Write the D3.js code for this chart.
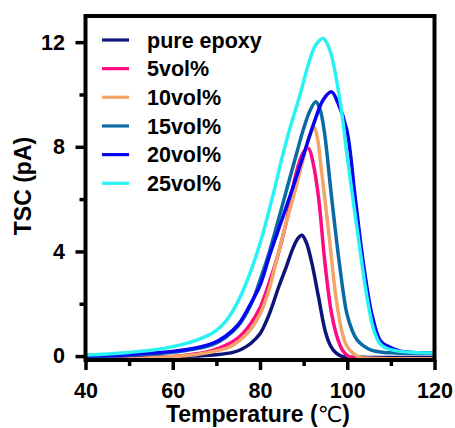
<!DOCTYPE html>
<html>
<head>
<meta charset="utf-8">
<script src="https://cdn.jsdelivr.net/npm/d3@7"></script>
<style>
  body { margin: 0; background: #fff; }
  svg { display: block; }
  text { font-family: "Liberation Sans", Arial, Helvetica, sans-serif; font-weight: bold; fill: #000; }
</style>
</head>
<body>
<svg id="chart" width="455" height="428"></svg>
<script>
// Thermally stimulated current (pA) versus temperature (°C), one curve per filler loading
const seriesNames = ["pure epoxy", "5vol%", "10vol%", "15vol%", "20vol%", "25vol%"];

const pureEpoxy = [[40,-0.05],[50,-0.05],[60,-0.03],[65,0.0],[70,0.05],[74,0.15],[76,0.28],[78,0.5],[80,0.85],[82,1.55],[84.3,2.65],[86,3.4],[87.5,4.1],[88.7,4.5],[89.6,4.62],[90.6,4.35],[91.9,3.54],[93.4,2.27],[94.9,0.99],[96,0.45],[96.8,0.23],[98,0.05],[99,-0.02],[105,-0.05],[120,-0.05]];
const vol5 = [[44,-0.12],[50,-0.1],[60,-0.02],[65,0.08],[69.3,0.23],[72,0.4],[75,0.7],[77.7,1.2],[80,1.85],[82,2.75],[84,3.8],[86,5.1],[88,6.8],[89.8,7.75],[91.1,7.94],[92.2,7.36],[93.4,6.09],[94.9,3.54],[96.4,1.63],[97.9,0.61],[99,0.2],[99.9,0.04],[101,-0.06],[103,-0.1],[120,-0.1]];
const vol10 = [[44,-0.13],[50,-0.12],[60,-0.02],[65,0.05],[69.3,0.18],[72.4,0.3],[75,0.55],[78,1.05],[80,1.6],[82,2.5],[84,3.8],[86,5.1],[88,6.3],[90,7.6],[91.3,8.4],[92.4,8.76],[93.2,8.3],[93.9,7.36],[95.7,4.81],[97.4,2.27],[98.7,0.99],[99.7,0.45],[100.6,0.23],[101.8,0.05],[103,-0.05],[105,-0.08],[120,-0.1]];
const vol15 = [[40,-0.03],[50,0.03],[60,0.15],[65,0.27],[69.3,0.45],[72,0.7],[75,1.15],[78,2.0],[80,2.9],[82,3.9],[84.2,5.2],[86,6.3],[88.4,7.75],[90,8.7],[91.5,9.4],[92.8,9.72],[93.8,9.4],[94.7,8.64],[96.4,6.09],[98.2,3.54],[99.9,1.63],[101.2,0.95],[102.3,0.61],[103.8,0.38],[105.5,0.23],[108,0.15],[111,0.12],[120,0.1]];
const vol20 = [[40,0.0],[50,0.06],[60,0.18],[65,0.3],[69.3,0.5],[72,0.75],[75,1.2],[77.7,1.95],[80,2.7],[82.3,3.9],[85,5.2],[87.6,6.47],[90,7.7],[92.6,9.02],[94.5,9.8],[96.4,10.1],[97.8,9.7],[99.9,8.64],[101.8,6.09],[103.7,3.54],[105.6,1.63],[107.5,0.61],[109,0.4],[112,0.2],[115,0.14],[120,0.12]];
const vol25 = [[40,0.04],[45,0.08],[50,0.14],[55,0.22],[60,0.36],[65,0.58],[69.3,0.9],[72,1.3],[75,2.1],[77.7,3.16],[80,4.3],[81.5,5.2],[83.5,6.5],[85.3,7.75],[87.2,8.9],[89.2,10.0],[91,11.1],[92.8,11.9],[94.5,12.14],[96,11.7],[98.2,9.91],[100.2,7.36],[102.3,4.81],[104.5,2.27],[106.1,0.99],[107.5,0.48],[109,0.3],[112,0.18],[115,0.14],[120,0.12]];

const seriesData = [pureEpoxy, vol5, vol10, vol15, vol20, vol25];
const seriesColors = ["#0c1478", "#ff0a80", "#f5a468", "#0a6aa6", "#0505f0", "#2af2f2"];

const xTicks = [40, 60, 80, 100, 120];
const xMinorTicks = [50, 70, 90, 110];
const yTicks = [0, 4, 8, 12];
const yMinorTicks = [2, 6, 10];

const xLabel = "Temperature (";
const xUnit = "\u2103";
const yLabel = "TSC (pA)";

const plot = { left: 85.5, right: 434.5, top: 16, bottom: 360 };

const svg = d3.select("#chart");

const x = d3.scaleLinear().domain([40, 120]).range([plot.left, plot.right]);
const y = d3.scaleLinear().domain([-0.15, 13]).range([plot.bottom, plot.top]);

svg.append("defs").append("clipPath").attr("id", "plot-clip")
  .append("rect")
  .attr("x", plot.left).attr("y", plot.top)
  .attr("width", plot.right - plot.left).attr("height", plot.bottom - plot.top);

// curves
const line = d3.line()
  .x(d => x(d[0]))
  .y(d => y(d[1]))
  .curve(d3.curveCatmullRom.alpha(0.5));

svg.append("g").attr("clip-path", "url(#plot-clip)")
  .selectAll("path")
  .data(seriesData)
  .join("path")
  .attr("d", d => line(d))
  .attr("fill", "none")
  .attr("stroke", (d, i) => seriesColors[i])
  .attr("stroke-width", 3.5)
  .attr("stroke-linejoin", "round")
  .attr("stroke-linecap", "round");

// axes
function styleAxis(g, fontSize) {
  g.select(".domain").remove();
  g.selectAll(".tick line").attr("stroke", "#000").attr("stroke-width", 3.5);
  g.selectAll(".tick text")
    .attr("font-family", "'Liberation Sans', Arial, sans-serif")
    .attr("font-weight", "bold")
    .attr("font-size", fontSize)
    .attr("fill", "#000");
}

svg.append("g")
  .attr("transform", `translate(0,${plot.bottom})`)
  .call(d3.axisBottom(x).tickValues(xTicks).tickSize(10).tickPadding(12.5).tickFormat(d3.format("d")))
  .call(g => styleAxis(g, 21.5))
  .attr("font-size", null).attr("font-family", null);

svg.append("g")
  .attr("transform", `translate(0,${plot.bottom})`)
  .call(d3.axisBottom(x).tickValues(xMinorTicks).tickSize(6).tickFormat(""))
  .call(g => styleAxis(g, 0));

svg.append("g")
  .attr("transform", `translate(${plot.left},0)`)
  .call(d3.axisLeft(y).tickValues(yTicks).tickSize(10).tickPadding(10.5).tickFormat(d3.format("d")))
  .call(g => styleAxis(g, 21.5))
  .attr("font-size", null).attr("font-family", null);

svg.append("g")
  .attr("transform", `translate(${plot.left},0)`)
  .call(d3.axisLeft(y).tickValues(yMinorTicks).tickSize(6).tickFormat(""))
  .call(g => styleAxis(g, 0));

// frame
svg.append("rect")
  .attr("x", plot.left).attr("y", plot.top)
  .attr("width", plot.right - plot.left).attr("height", plot.bottom - plot.top)
  .attr("fill", "none").attr("stroke", "#000").attr("stroke-width", 4);

// axis titles
const xt = svg.append("text")
  .attr("x", (plot.left + plot.right) / 2 - 2)
  .attr("y", 422)
  .attr("text-anchor", "middle")
  .attr("font-size", 23);
xt.append("tspan").text(xLabel);
xt.append("tspan")
  .attr("font-family", "'DejaVu Sans', sans-serif")
  .attr("font-weight", "normal")
  .attr("font-size", 22)
  .text(xUnit);
xt.append("tspan").text(")");

svg.append("text")
  .attr("transform", `translate(31,186) rotate(-90)`)
  .attr("text-anchor", "middle")
  .attr("font-size", 23)
  .text(yLabel);

// legend
const legend = svg.append("g");
const rows = legend.selectAll("g")
  .data(seriesNames)
  .join("g")
  .attr("transform", (d, i) => `translate(0,${40 + i * 28.65})`);
rows.append("line")
  .attr("x1", 102).attr("x2", 129)
  .attr("y1", 0).attr("y2", 0)
  .attr("stroke", (d, i) => seriesColors[i])
  .attr("stroke-width", 3.2);
rows.append("text")
  .attr("x", 147)
  .attr("dy", "0.36em")
  .attr("font-size", 21.5)
  .text(d => d);
</script>
</body>
</html>
